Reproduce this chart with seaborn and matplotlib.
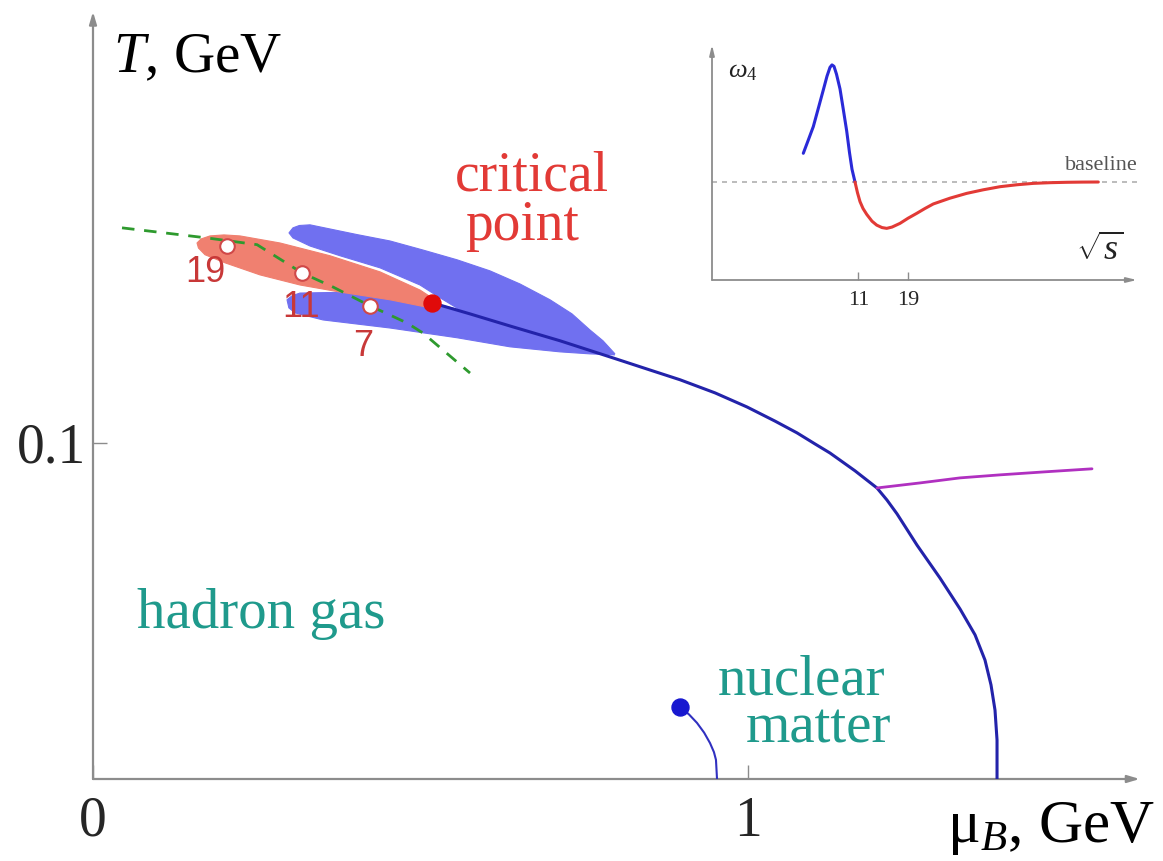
import numpy as np
import matplotlib
matplotlib.use("Agg")
import matplotlib.pyplot as plt
import seaborn as sns

# ---- phase diagram data (mu_B in GeV, T in GeV) ----
# first-order transition line, from the critical point down to T = 0
line_mu = [0.5176, 0.5756, 0.6366, 0.7130, 0.7939, 0.8504, 0.8962, 0.9496,
           0.9985, 1.0412, 1.0748, 1.1023, 1.1252, 1.1634, 1.1969, 1.2122,
           1.2275, 1.2580, 1.2931, 1.3237, 1.3466, 1.3618, 1.3710, 1.3771,
           1.3802, 1.3802]
line_T = [0.1417, 0.1384, 0.1348, 0.1304, 0.1253, 0.1217, 0.1188, 0.1149,
          0.1107, 0.1065, 0.1030, 0.0997, 0.0970, 0.0917, 0.0866, 0.0830,
          0.0789, 0.0696, 0.0598, 0.0506, 0.0429, 0.0354, 0.0280, 0.0205,
          0.0116, 0.0]

# branch splitting off the transition line
branch_mu = [1.1969, 1.2626, 1.3237, 1.3847, 1.4534, 1.5252]
branch_T = [0.0866, 0.0881, 0.0896, 0.0905, 0.0914, 0.0923]

# nuclear liquid-gas line with its endpoint
nuc_mu = [0.8962, 0.9100, 0.9221, 0.9330, 0.9420, 0.9480, 0.9511, 0.9527]
nuc_T = [0.0214, 0.0192, 0.0167, 0.0138, 0.0107, 0.0080, 0.0057, 0.0]

# freeze-out curve
fo_mu = [0.0443, 0.1740, 0.2504, 0.3191, 0.3664, 0.4229, 0.4794, 0.5038, 0.5756]
fo_T = [0.1640, 0.1610, 0.1590, 0.1506, 0.1464, 0.1408, 0.1357, 0.1327, 0.1208]

# collision energies on the freeze-out curve
energy_labels = ["19", "11", "7"]
energy_mu = [0.2046, 0.3191, 0.4229]
energy_T = [0.1586, 0.1506, 0.1408]
label_mu = [0.171, 0.3176, 0.412]
label_T = [0.1506, 0.1402, 0.1286]

# critical point
cp_mu, cp_T = 0.5176, 0.1417

# critical regions (closed outlines)
red_mu = [0.1588, 0.1650, 0.1786, 0.2000, 0.2244, 0.2855, 0.3618, 0.4382,
          0.4992, 0.5221, 0.5145, 0.4534, 0.3771, 0.3160, 0.2550, 0.2015,
          0.1710, 0.1610]
red_T = [0.1595, 0.1607, 0.1616, 0.1619, 0.1616, 0.1595, 0.1557, 0.1509,
         0.1455, 0.1426, 0.1402, 0.1426, 0.1449, 0.1470, 0.1500, 0.1536,
         0.1560, 0.1580]

upper_mu = [0.2992, 0.3053, 0.3150, 0.3313, 0.4031, 0.4534, 0.5038, 0.5557,
            0.6061, 0.6519, 0.6977, 0.7313, 0.7588, 0.7786, 0.7969,
            0.7130, 0.6214, 0.5603, 0.5298, 0.4992, 0.4382, 0.3771, 0.3313,
            0.3053]
upper_T = [0.1625, 0.1640, 0.1647, 0.1649, 0.1620, 0.1601, 0.1574, 0.1545,
           0.1512, 0.1473, 0.1426, 0.1384, 0.1336, 0.1304, 0.1265,
           0.1292, 0.1351, 0.1396, 0.1432, 0.1470, 0.1521, 0.1557, 0.1586,
           0.1610]

lower_mu = [0.2962, 0.3040, 0.3160, 0.4031, 0.4794, 0.5298, 0.6214, 0.7130,
            0.7969, 0.7588, 0.7130, 0.6366, 0.5557, 0.4534, 0.3511, 0.3084,
            0.2990]
lower_T = [0.1426, 0.1438, 0.1446, 0.1449, 0.1440, 0.1411, 0.1366, 0.1313,
           0.1262, 0.1265, 0.1271, 0.1286, 0.1313, 0.1342, 0.1366, 0.1387,
           0.1402]

# ---- inset: omega_4 versus sqrt(s) (arbitrary units) ----
w_blue_x = [0.913, 0.960, 1.013, 1.060, 1.113, 1.150, 1.180, 1.200, 1.220,
            1.245, 1.280, 1.310, 1.347, 1.375, 1.400, 1.430]
w_blue_y = [1.293, 1.420, 1.565, 1.740, 1.939, 2.080, 2.170, 2.195, 2.180,
            2.100, 1.950, 1.760, 1.520, 1.300, 1.130, 1.000]
w_red_x = [1.430, 1.455, 1.480, 1.510, 1.547, 1.600, 1.647, 1.700, 1.747,
           1.800, 1.880, 1.960, 2.047, 2.130, 2.213, 2.380, 2.547, 2.710,
           2.880, 3.050, 3.213, 3.380, 3.547, 3.700, 3.863]
w_red_y = [1.000, 0.890, 0.800, 0.730, 0.670, 0.600, 0.560, 0.535, 0.527,
           0.540, 0.578, 0.630, 0.680, 0.730, 0.776, 0.835, 0.884, 0.920,
           0.952, 0.972, 0.986, 0.993, 0.997, 0.999, 1.000]
inset_ticks = [1.463, 1.963]
inset_ticklabels = ["11", "19"]
baseline_level = 1.0

# ---- style ----
sns.set_theme(style="white")
plt.rcParams["font.family"] = ["Liberation Serif", "DejaVu Serif"]
plt.rcParams["mathtext.fontset"] = "custom"
plt.rcParams["mathtext.rm"] = "Liberation Serif"
plt.rcParams["mathtext.it"] = "Liberation Serif:italic"

axis_gray = "#8c8c8c"
blue_fill = "#7070f0"
red_fill = "#f08070"
line_blue = "#2323aa"
teal = "#1f9a8c"
red_text = "#e23a36"

fig = plt.figure(figsize=(11.63, 8.61), dpi=100)
ax = fig.add_axes([93 / 1163, 82 / 861, 1.62 * 655 / 1163, 779 / 861])
ax.set_xlim(0, 1.62)
ax.set_ylim(0, 0.2318)
for s in ax.spines.values():
    s.set_visible(False)

# axes with arrowheads
ax.annotate("", xy=(1.598, 0), xytext=(0, 0),
            arrowprops=dict(arrowstyle="-|>,head_length=0.6,head_width=0.18",
                            color=axis_gray, lw=1.6, shrinkA=0, shrinkB=0))
ax.annotate("", xy=(0, 0.2283), xytext=(0, 0),
            arrowprops=dict(arrowstyle="-|>,head_length=0.6,head_width=0.18",
                            color=axis_gray, lw=1.6, shrinkA=0, shrinkB=0))

ax.set_xticks([0, 1])
ax.set_xticklabels(["0", "1"])
ax.set_yticks([0.1])
ax.set_yticklabels(["0.1"])
ax.tick_params(axis="x", direction="in", length=10, width=1.0, color=axis_gray,
               labelsize=40, pad=12, bottom=True)
ax.tick_params(axis="y", direction="in", length=10, width=1.0, color=axis_gray,
               labelsize=40, pad=5, left=True)
ax.set_xlabel("")
ax.set_ylabel("")

# critical regions
ax.fill(upper_mu, upper_T, color=blue_fill, lw=0.8, ec=blue_fill, zorder=1)
ax.fill(lower_mu, lower_T, color=blue_fill, lw=0.8, ec=blue_fill, zorder=1)
ax.fill(red_mu, red_T, color=red_fill, lw=0.8, ec=red_fill, zorder=2)

# freeze-out curve
sns.lineplot(x=fo_mu, y=fo_T, sort=False, estimator=None, ax=ax, color="#2e9a2e",
             lw=2.0, zorder=3).lines[-1].set_dashes((4.5, 3.5))

# transition lines
sns.lineplot(x=line_mu, y=line_T, sort=False, estimator=None, ax=ax,
             color=line_blue, lw=2.2, zorder=4)
sns.lineplot(x=branch_mu, y=branch_T, sort=False, estimator=None, ax=ax,
             color="#b030c0", lw=2.0, zorder=4)
sns.lineplot(x=nuc_mu, y=nuc_T, sort=False, estimator=None, ax=ax,
             color="#3030c0", lw=1.5, zorder=4)

# markers
sns.scatterplot(x=energy_mu, y=energy_T, ax=ax, s=110, color="white",
                edgecolor="#d04848", linewidth=1.5, zorder=6)
sns.scatterplot(x=[cp_mu], y=[cp_T], ax=ax, s=150, color="#e00a0a",
                edgecolor="#e00a0a", zorder=6)
sns.scatterplot(x=[nuc_mu[0]], y=[nuc_T[0]], ax=ax, s=150, color="#1818d0",
                edgecolor="#1818d0", zorder=6)

for lab, xm, ym in zip(energy_labels, label_mu, label_T):
    ax.text(xm, ym, lab, ha="center", va="center", fontsize=26,
            color="#c83838", family="Liberation Sans", zorder=7)

# region labels
ax.text(0.670, 0.1750, "critical", ha="center", va="baseline", fontsize=40, color=red_text)
ax.text(0.655, 0.1604, "point", ha="center", va="baseline", fontsize=40, color=red_text)
ax.text(0.2565, 0.0449, "hadron gas", ha="center", va="baseline", fontsize=41, color=teal)
ax.text(1.0824, 0.0250, "nuclear", ha="center", va="baseline", fontsize=41, color=teal)
ax.text(1.1069, 0.0110, "matter", ha="center", va="baseline", fontsize=41, color=teal)

# axis titles
ax.text(0.0305, 0.2146, r"$T$, GeV", ha="left", va="center", fontsize=41, color="black")
ax.text(1.621, -0.0146, r"$\mathrm{\mu}_{B}$, GeV", ha="right", va="center",
        fontsize=44, color="black")

# ---- inset ----
ins = fig.add_axes([712 / 1163, (861 - 280) / 861, 438 / 1163, 240 / 861])
ins.set_xlim(0, 4.38)
ins.set_ylim(0, 2.449)
ins.patch.set_alpha(0)
for s in ins.spines.values():
    s.set_visible(False)
ins.annotate("", xy=(4.25, 0), xytext=(0, 0),
             arrowprops=dict(arrowstyle="-|>,head_length=0.5,head_width=0.12",
                             color=axis_gray, lw=1.3, shrinkA=0, shrinkB=0))
ins.annotate("", xy=(0, 2.40), xytext=(0, 0),
             arrowprops=dict(arrowstyle="-|>,head_length=0.5,head_width=0.12",
                             color=axis_gray, lw=1.3, shrinkA=0, shrinkB=0))
ins.axhline(baseline_level, xmin=0, xmax=4.3 / 4.38, color="#b0b0b0", lw=1.2,
            ls=(0, (3, 3)), zorder=1)
sns.lineplot(x=w_blue_x, y=w_blue_y, sort=False, estimator=None, ax=ins,
             color="#2a2ad8", lw=2.2, zorder=3)
sns.lineplot(x=w_red_x, y=w_red_y, sort=False, estimator=None, ax=ins,
             color="#e23a36", lw=2.2, zorder=3)
ins.set_xticks(inset_ticks)
ins.set_xticklabels(inset_ticklabels)
ins.set_yticks([])
ins.tick_params(axis="x", direction="in", length=6, width=1.0, color=axis_gray,
                labelsize=16, pad=8, bottom=True)
ins.set_xlabel("")
ins.set_ylabel("")
ins.text(0.16, 2.12, r"$\omega_4$", ha="left", va="center", fontsize=19, color="#222222")
ins.text(3.89, 1.17, "baseline", ha="center", va="center", fontsize=16, color="#555555")
ins.text(3.88, 0.29, r"$\sqrt{s}$", ha="center", va="center", fontsize=26, color="#222222")

fig.savefig("out.png", dpi=100)
